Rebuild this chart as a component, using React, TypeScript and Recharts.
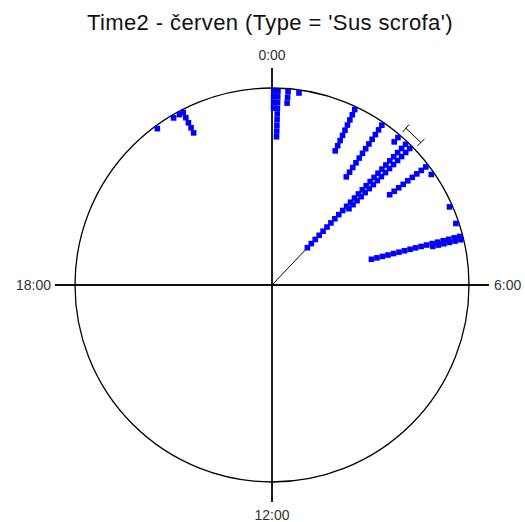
import React from 'react';
import { ScatterChart, Scatter, XAxis, YAxis, ReferenceLine, ReferenceDot } from 'recharts';

const TITLE = "Time2 - červen (Type = 'Sus scrofa')";

// axis tick labels (clock hours)
const tickHours = [0, 6, 12, 18];
const tickLabels = ['0:00', '6:00', '12:00', '18:00'];

// observed times (stack bins) and number of observations in each
const binTimes = [
  '0:02', '0:07', '0:19', '0:32', '1:41', '2:18', '2:42', '2:54', '3:01', '3:30',
  '3:41', '4:25', '4:46', '5:02', '5:06', '21:35', '21:58', '22:06', '22:11',
];
const binCounts = [4, 9, 3, 1, 9, 12, 2, 26, 16, 9, 1, 1, 1, 17, 6, 1, 1, 1, 5];

// mean direction and its 95% confidence interval
const meanTime = '2:54';
const ciLowTime = '2:42';
const ciHighTime = '3:05';

const FONT = "Arial, 'Liberation Sans', sans-serif";
const R_OUTER = 0.983;
const STEP = 0.0289;

const toHours = (s: string) => {
  const [h, m] = s.split(':').map(Number);
  return h + m / 60;
};
const polar = (hours: number, r: number) => {
  const a = (hours / 24) * 2 * Math.PI;
  return { x: r * Math.sin(a), y: r * Math.cos(a) };
};

const points = binTimes.flatMap((t, i) =>
  Array.from({ length: binCounts[i] }, (_, k) => polar(toHours(t), R_OUTER - k * STEP))
);

const Square = (props: any) => {
  const { cx, cy } = props;
  if (cx == null || cy == null) return null;
  return <rect x={cx - 2.8} y={cy - 2.8} width={5.6} height={5.6} fill="#0000FF" />;
};

const labelPos: Record<number, string> = { 0: 'top', 6: 'right', 12: 'bottom', 18: 'left' };

export default function App() {
  const mean = toHours(meanTime);
  const lo = toHours(ciLowTime);
  const hi = toHours(ciHighTime);
  return (
    <div style={{ position: 'absolute', left: 0, top: 0, width: 525, height: 522, background: '#fff' }}>
      <div
        style={{
          position: 'absolute',
          left: 0,
          top: 10,
          width: 540,
          height: 26,
          lineHeight: '26px',
          textAlign: 'center',
          fontFamily: FONT,
          fontSize: 22,
          letterSpacing: 0.4,
          color: '#111',
        }}
      >
        {TITLE}
      </div>
      <ScatterChart width={525} height={522} margin={{ top: 68, right: 36, bottom: 20, left: 55 }}>
        <XAxis type="number" dataKey="x" domain={[-1.1, 1.1]} hide allowDataOverflow />
        <YAxis type="number" dataKey="y" domain={[-1.1, 1.1]} hide allowDataOverflow />
        <ReferenceDot x={0} y={0} r={197} fill="none" stroke="#000" strokeWidth={1.3} ifOverflow="visible" />
        {tickHours.map((h, i) => {
          const vertical = h === 0 || h === 12;
          const label = {
            value: tickLabels[i],
            position: labelPos[h] as any,
            offset: h === 6 ? 5 : h === 18 ? 4 : 8,
            fill: '#333',
            fontSize: 14,
            fontFamily: FONT,
          };
          return vertical ? (
            <ReferenceLine key={h} x={0} stroke="#000" strokeWidth={1.3} label={label} />
          ) : (
            <ReferenceLine key={h} y={0} stroke="#000" strokeWidth={1.3} label={label} />
          );
        })}
        <ReferenceLine segment={[{ x: 0, y: 0 }, polar(mean, 1)]} stroke="#000" strokeWidth={1} />
        <ReferenceLine segment={[polar(lo, 1.045), polar(hi, 1.045)]} stroke="#000" strokeWidth={1} />
        <ReferenceLine segment={[polar(lo, 1.02), polar(lo, 1.07)]} stroke="#000" strokeWidth={1} />
        <ReferenceLine segment={[polar(hi, 1.02), polar(hi, 1.07)]} stroke="#000" strokeWidth={1} />
        <Scatter data={points} shape={<Square />} isAnimationActive={false} />
      </ScatterChart>
    </div>
  );
}
